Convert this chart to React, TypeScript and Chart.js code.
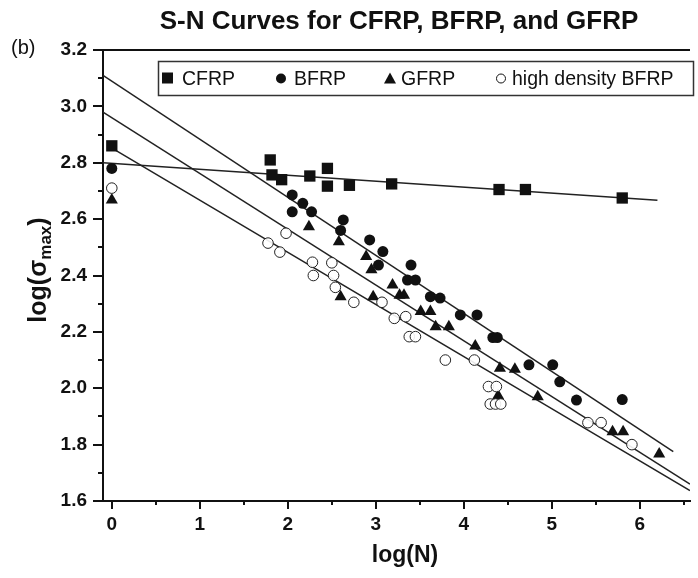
import { useEffect, useRef } from 'react';
import { Chart, registerables } from 'chart.js';

Chart.register(...registerables);

// ---- data (log N, log sigma_max) ----
const cfrpX = [0, 1.8, 1.82, 1.93, 2.25, 2.45, 2.45, 2.7, 3.18, 4.4, 4.7, 5.8];
const cfrpY = [2.86, 2.81, 2.757, 2.74, 2.753, 2.78, 2.717, 2.72, 2.725, 2.705, 2.705, 2.675];

const bfrpX = [0, 2.05, 2.17, 2.05, 2.27, 2.63, 2.6, 2.93, 3.08, 3.03, 3.4, 3.36, 3.45, 3.62, 3.73, 3.96, 4.15, 4.33, 4.38, 4.74, 5.01, 5.09, 5.28, 5.8];
const bfrpY = [2.78, 2.686, 2.656, 2.626, 2.626, 2.597, 2.56, 2.526, 2.485, 2.437, 2.437, 2.384, 2.384, 2.325, 2.32, 2.26, 2.26, 2.18, 2.18, 2.083, 2.083, 2.023, 1.958, 1.96];

const gfrpX = [0, 2.24, 2.58, 2.6, 2.89, 2.95, 2.97, 3.19, 3.27, 3.32, 3.51, 3.62, 3.68, 3.83, 4.13, 4.41, 4.58, 4.39, 4.84, 5.69, 5.81, 6.22];
const gfrpY = [2.668, 2.573, 2.52, 2.325, 2.467, 2.42, 2.325, 2.366, 2.33, 2.33, 2.272, 2.272, 2.218, 2.218, 2.15, 2.071, 2.067, 1.973, 1.97, 1.846, 1.846, 1.767];

const hdX = [0, 1.775, 1.91, 1.98, 2.28, 2.5, 2.29, 2.52, 2.54, 2.75, 3.07, 3.21, 3.34, 3.38, 3.45, 3.79, 4.12, 4.28, 4.37, 4.3, 4.36, 4.42, 5.41, 5.56, 5.91];
const hdY = [2.71, 2.515, 2.483, 2.55, 2.447, 2.445, 2.4, 2.4, 2.358, 2.305, 2.305, 2.248, 2.254, 2.183, 2.183, 2.1, 2.1, 2.006, 2.006, 1.944, 1.944, 1.944, 1.878, 1.878, 1.8];

// fitted trend lines (endpoints)
const cfrpLineX = [-0.1, 6.2];
const cfrpLineY = [2.8, 2.667];
const bfrpLineX = [-0.1, 6.38];
const bfrpLineY = [3.11, 1.775];
const gfrpLineX = [-0.1, 6.57];
const gfrpLineY = [2.98, 1.66];
const hdLineX = [0.04, 6.57];
const hdLineY = [2.845, 1.637];

// axes
const xMin = -0.1;
const xMax = 6.57;
const yMin = 1.6;
const yMax = 3.2;
const xTicks = [0, 1, 2, 3, 4, 5, 6];
const xMinorTicks = [0.5, 1.5, 2.5, 3.5, 4.5, 5.5, 6.5];
const yTicks = [1.6, 1.8, 2.0, 2.2, 2.4, 2.6, 2.8, 3.0, 3.2];
const yMinorTicks = [1.7, 1.9, 2.1, 2.3, 2.5, 2.7, 2.9, 3.1];

// texts
const titleText = 'S-N Curves for CFRP, BFRP, and GFRP';
const panelLabel = '(b)';
const xAxisTitle = 'log(N)';
const yAxisTitleMain = 'log(σ';
const yAxisTitleSub = 'max';
const yAxisTitleEnd = ')';
const legendLabels = ['CFRP', 'BFRP', 'GFRP', 'high density BFRP'];

const FONT = '"Liberation Sans", Arial, Helvetica, sans-serif';
const INK = '#111';

const pts = (xs: number[], ys: number[]) => xs.map((x, i) => ({ x, y: ys[i] }));

export default function App() {
  const ref = useRef<HTMLCanvasElement>(null);

  useEffect(() => {
    const canvas = ref.current;
    if (!canvas) return;

    const decor = {
      id: 'decor',
      afterDraw(chart: any) {
        const ctx = chart.ctx as CanvasRenderingContext2D;
        const xs = chart.scales.x;
        const ys = chart.scales.y;
        const { left, top, right, bottom } = chart.chartArea;
        ctx.save();
        ctx.strokeStyle = INK;
        ctx.lineWidth = 2;
        // top frame line
        ctx.beginPath();
        ctx.moveTo(left, top);
        ctx.lineTo(right, top);
        ctx.stroke();
        // y ticks
        yTicks.forEach((v) => {
          const py = Math.round(ys.getPixelForValue(v));
          ctx.beginPath();
          ctx.moveTo(left - 10, py);
          ctx.lineTo(left, py);
          ctx.stroke();
        });
        yMinorTicks.forEach((v) => {
          const py = Math.round(ys.getPixelForValue(v));
          ctx.beginPath();
          ctx.moveTo(left - 5, py);
          ctx.lineTo(left, py);
          ctx.stroke();
        });
        // x ticks
        xTicks.forEach((v) => {
          const px = Math.round(xs.getPixelForValue(v));
          ctx.beginPath();
          ctx.moveTo(px, bottom);
          ctx.lineTo(px, bottom + 8);
          ctx.stroke();
        });
        xMinorTicks.forEach((v) => {
          const px = Math.round(xs.getPixelForValue(v));
          ctx.beginPath();
          ctx.moveTo(px, bottom);
          ctx.lineTo(px, bottom + 4);
          ctx.stroke();
        });

        // title
        ctx.fillStyle = INK;
        ctx.textAlign = 'center';
        ctx.textBaseline = 'middle';
        ctx.font = `bold 26px ${FONT}`;
        ctx.fillText(titleText, 399, 22);

        // panel label
        ctx.textAlign = 'left';
        ctx.font = `20px ${FONT}`;
        ctx.fillText(panelLabel, 11, 48);

        // x axis title
        ctx.textAlign = 'center';
        ctx.font = `bold 23px ${FONT}`;
        ctx.fillText(xAxisTitle, 405, 556);

        // y axis title with subscript
        ctx.save();
        ctx.translate(38, 270);
        ctx.rotate(-Math.PI / 2);
        ctx.textBaseline = 'alphabetic';
        ctx.textAlign = 'left';
        const mainFont = `bold 25px ${FONT}`;
        const subFont = `bold 17px ${FONT}`;
        ctx.font = mainFont;
        const w1 = ctx.measureText(yAxisTitleMain).width;
        const w3 = ctx.measureText(yAxisTitleEnd).width;
        ctx.font = subFont;
        const w2 = ctx.measureText(yAxisTitleSub).width;
        const total = w1 + w2 + w3;
        let cx = -total / 2;
        const base = 8;
        ctx.font = mainFont;
        ctx.fillText(yAxisTitleMain, cx, base);
        cx += w1;
        ctx.font = subFont;
        ctx.fillText(yAxisTitleSub, cx, base + 5);
        cx += w2;
        ctx.font = mainFont;
        ctx.fillText(yAxisTitleEnd, cx, base);
        ctx.restore();

        // legend box
        ctx.lineWidth = 1.5;
        ctx.strokeStyle = '#333';
        ctx.strokeRect(158.5, 61.5, 535, 34);
        const ly = 78.5;
        ctx.font = `19.5px ${FONT}`;
        ctx.textAlign = 'left';
        ctx.textBaseline = 'middle';
        ctx.fillStyle = INK;
        // square
        ctx.fillRect(162, ly - 6, 11, 11);
        ctx.fillText(legendLabels[0], 182, ly + 1);
        // circle
        ctx.beginPath();
        ctx.arc(281, ly, 5, 0, Math.PI * 2);
        ctx.fill();
        ctx.fillText(legendLabels[1], 294, ly + 1);
        // triangle
        ctx.beginPath();
        ctx.moveTo(390, ly - 6);
        ctx.lineTo(396, ly + 5);
        ctx.lineTo(384, ly + 5);
        ctx.closePath();
        ctx.fill();
        ctx.fillText(legendLabels[2], 401, ly + 1);
        // open circle
        ctx.beginPath();
        ctx.arc(501, ly, 4.5, 0, Math.PI * 2);
        ctx.lineWidth = 1;
        ctx.strokeStyle = INK;
        ctx.stroke();
        ctx.fillText(legendLabels[3], 512, ly + 1);
        ctx.restore();
      },
    };

    const lineDs = (xs: number[], ys: number[]) => ({
      type: 'line' as const,
      data: pts(xs, ys),
      borderColor: '#222',
      borderWidth: 1.5,
      pointRadius: 0,
      showLine: true,
      fill: false,
      order: 5,
    });

    const chart = new Chart(canvas, {
      type: 'scatter',
      data: {
        datasets: [
          lineDs(cfrpLineX, cfrpLineY),
          lineDs(bfrpLineX, bfrpLineY),
          lineDs(gfrpLineX, gfrpLineY),
          lineDs(hdLineX, hdLineY),
          {
            label: legendLabels[0],
            data: pts(cfrpX, cfrpY),
            pointStyle: 'rect',
            pointRadius: 8,
            backgroundColor: INK,
            borderColor: INK,
            borderWidth: 0,
            order: 1,
          },
          {
            label: legendLabels[1],
            data: pts(bfrpX, bfrpY),
            pointStyle: 'circle',
            pointRadius: 5.5,
            backgroundColor: INK,
            borderColor: INK,
            borderWidth: 0,
            order: 1,
          },
          {
            label: legendLabels[2],
            data: pts(gfrpX, gfrpY),
            pointStyle: 'triangle',
            pointRadius: 7,
            backgroundColor: INK,
            borderColor: INK,
            borderWidth: 0,
            order: 1,
          },
          {
            label: legendLabels[3],
            data: pts(hdX, hdY),
            pointStyle: 'circle',
            pointRadius: 5.3,
            backgroundColor: 'rgba(255,255,255,0.9)',
            borderColor: '#222',
            borderWidth: 1,
            order: 0,
          },
        ],
      },
      options: {
        animation: false,
        responsive: false,
        devicePixelRatio: 1,
        layout: { padding: { top: 50, right: 0, left: 0, bottom: 0 } },
        plugins: {
          legend: { display: false },
          title: { display: false },
          tooltip: { enabled: false },
        },
        scales: {
          x: {
            type: 'linear',
            min: xMin,
            max: xMax,
            afterFit: (s: any) => {
              s.height = 77;
            },
            afterBuildTicks: (s: any) => {
              s.ticks = xTicks.map((v) => ({ value: v }));
            },
            grid: { display: false, drawTicks: false },
            border: { display: true, color: INK, width: 2 },
            ticks: {
              color: INK,
              font: { family: FONT, size: 19, weight: 'bold' },
              padding: 12,
              maxRotation: 0,
              callback: (v: any) => String(v),
            },
          },
          y: {
            type: 'linear',
            min: yMin,
            max: yMax,
            afterFit: (s: any) => {
              s.width = 103;
            },
            afterBuildTicks: (s: any) => {
              s.ticks = yTicks.map((v) => ({ value: v }));
            },
            grid: { display: false, drawTicks: false },
            border: { display: true, color: INK, width: 2 },
            ticks: {
              color: INK,
              font: { family: FONT, size: 19, weight: 'bold' },
              padding: 16,
              callback: (v: any) => Number(v).toFixed(1),
            },
          },
        },
      },
      plugins: [decor],
    });

    return () => chart.destroy();
  }, []);

  return (
    <div style={{ position: 'fixed', left: 0, top: 0, width: 698, height: 578, background: '#fff' }}>
      <canvas ref={ref} width={698} height={578} style={{ display: 'block', width: 698, height: 578 }} />
    </div>
  );
}
